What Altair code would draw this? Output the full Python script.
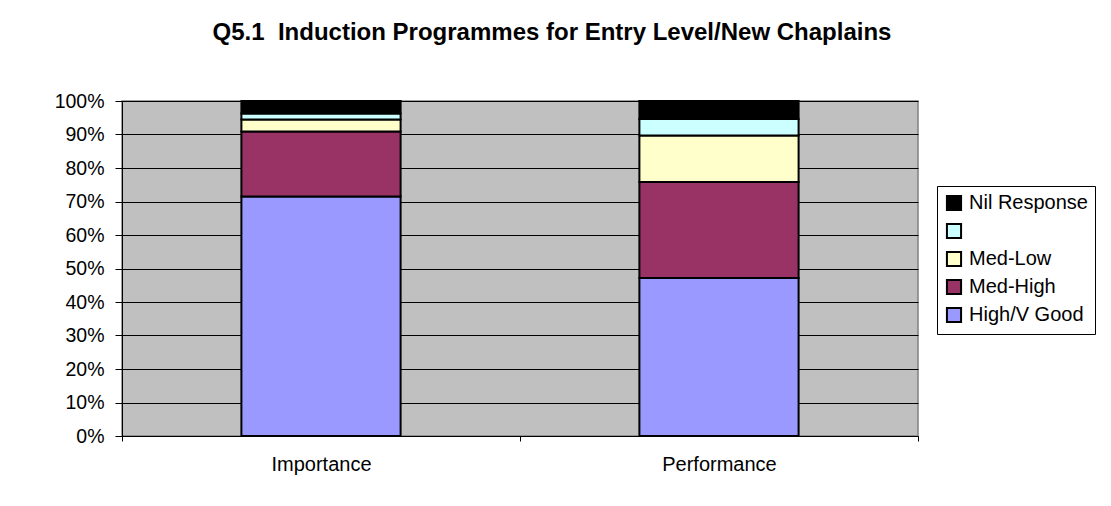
import altair as alt
import pandas as pd

groups = ["Importance", "Performance"]
categories = ["High/V Good", "Med-High", "Med-Low", "_blank", "Nil Response"]
importance = [71.5, 19.4, 3.6, 1.8, 3.7]
performance = [47.2, 28.6, 13.9, 4.9, 5.4]
colors = ["#9999FF", "#993366", "#FFFFCC", "#CCFFFF", "#000000"]

rows = []
for g, vals in zip(groups, [importance, performance]):
    for i, (c, v) in enumerate(zip(categories, vals)):
        rows.append({"group": g, "category": c, "value": v, "order": i})
df = pd.DataFrame(rows)

legend_order = list(reversed(categories))
FONT = "Liberation Sans"

chart = alt.Chart(df).mark_bar(
    width={"band": 0.4}, stroke="black", strokeWidth=2
).encode(
    x=alt.X("group:N", sort=groups, title=None,
            scale=alt.Scale(paddingInner=0, paddingOuter=0),
            axis=alt.Axis(labelAngle=0, tickBand="extent", labelFontSize=20,
                          labelFont=FONT, labelColor="black",
                          domainColor="black", tickColor="black", tickSize=5,
                          labelPadding=13, grid=False)),
    y=alt.Y("value:Q", stack="zero", title=None,
            scale=alt.Scale(domain=[0, 100], nice=False),
            axis=alt.Axis(values=list(range(0, 101, 10)),
                          labelExpr="datum.value + '%'",
                          labelFontSize=19.5, labelFont=FONT,
                          labelColor="black", domainColor="black",
                          tickColor="black", tickSize=7, labelPadding=11,
                          grid=True, gridColor="black", gridWidth=1)),
    color=alt.Color("category:N",
                    scale=alt.Scale(domain=categories, range=colors),
                    sort=legend_order,
                    legend=alt.Legend(
                        title=None, orient="none", legendX=815, legendY=85,
                        values=legend_order,
                        labelExpr="datum.label == '_blank' ? '' : datum.label",
                        symbolType="square", symbolSize=200,
                        symbolStrokeColor="black", symbolStrokeWidth=2,
                        labelFontSize=20, labelFont=FONT, labelOffset=5,
                        labelColor="black", rowPadding=4,
                        strokeColor="black", fillColor="white",
                        padding=7, labelLimit=250)),
    order=alt.Order("order:Q", sort="ascending"),
).properties(
    width=796, height=335,
    background="white",
    title=alt.TitleParams(
        "Q5.1\u00a0 Induction Programmes for Entry Level/New Chaplains",
        font=FONT, fontSize=24, fontWeight="bold",
        color="black", anchor="middle", offset=46, dx=32),
    autosize=alt.AutoSizeParams(type="none"),
    padding={"left": 114, "top": 93, "right": 185, "bottom": 62},
).configure_view(
    fill="#C0C0C0", stroke="#808080", strokeWidth=1.5
)

chart.save("out.html", embed_options={"renderer": "svg", "actions": False})
